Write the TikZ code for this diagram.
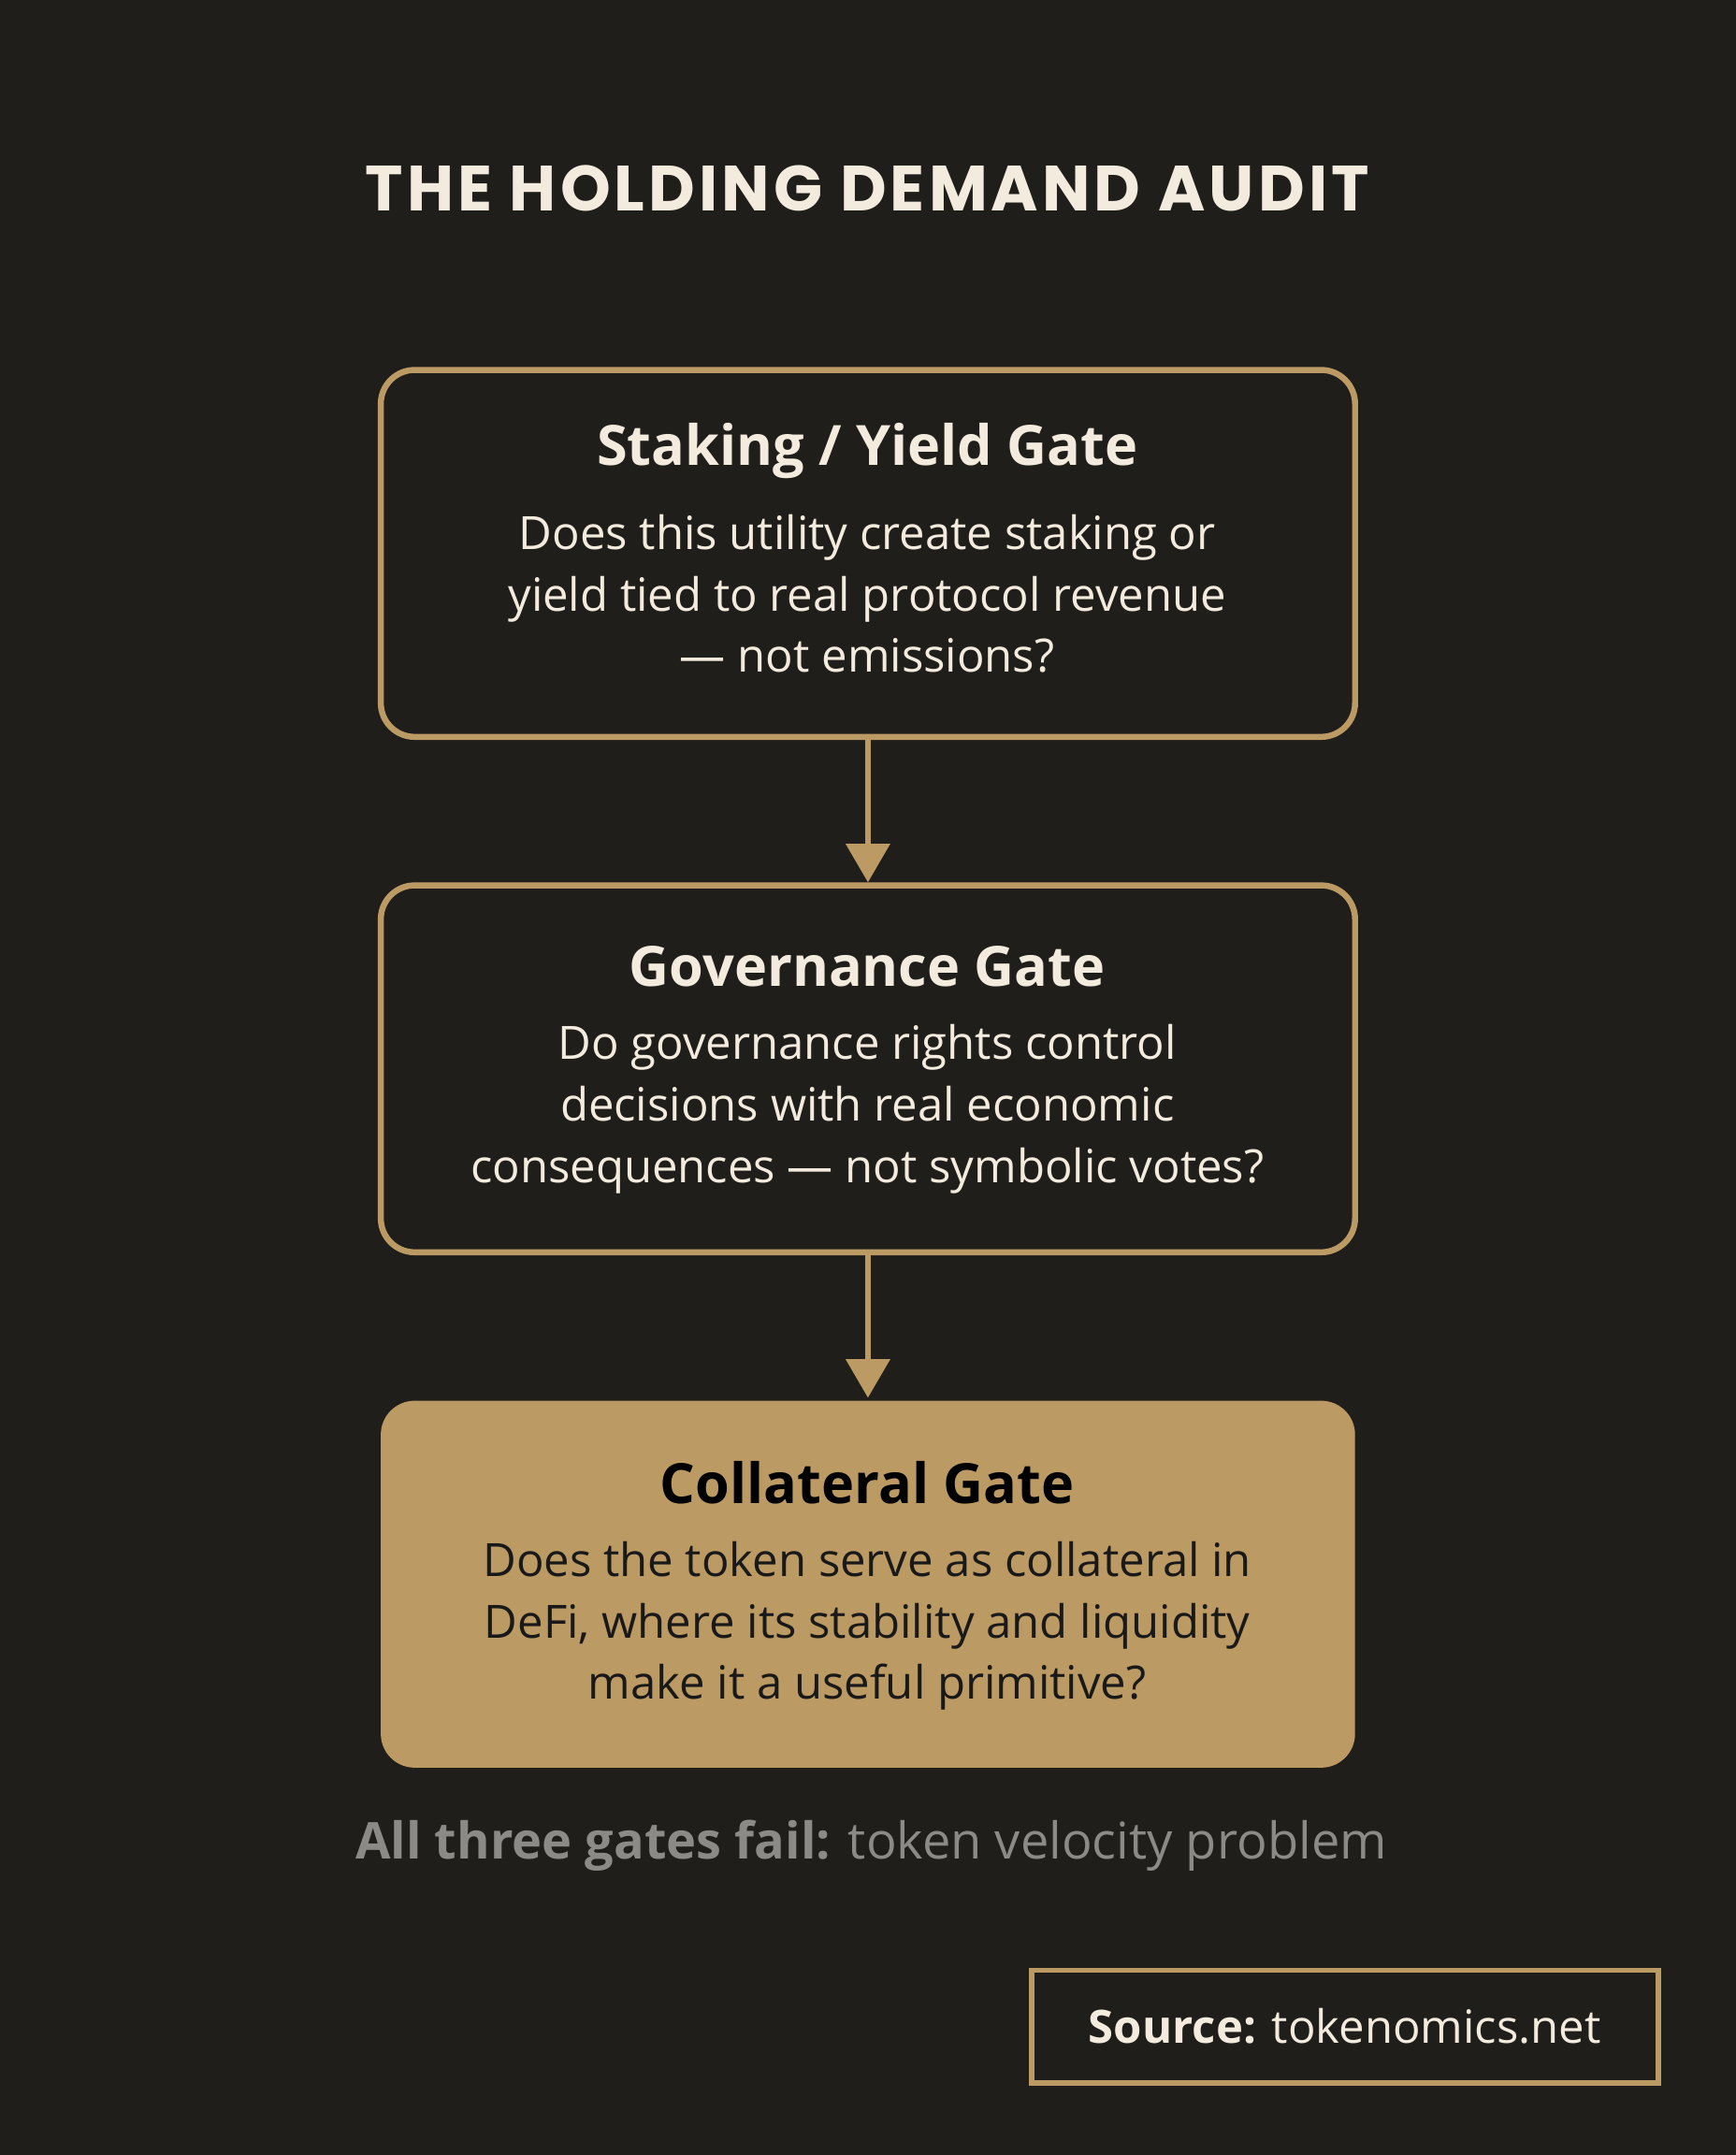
\documentclass[tikz,border=0pt]{standalone}
\usepackage{fontspec}
\setmainfont{Open Sans}
\newfontfamily\titlefont{Poppins}
\usetikzlibrary{arrows.meta}
\definecolor{bg}{HTML}{201E1B}
\definecolor{gold}{HTML}{BC9A63}
\definecolor{cream}{HTML}{F3EBDD}
\definecolor{grayt}{HTML}{8C8A86}
\tikzset{
  gatebox/.style={draw=gold,line width=2.5pt,rounded corners=14pt,minimum width=14.18cm,minimum height=5.34cm,anchor=north},
  head/.style={font=\bfseries\fontsize{23}{28}\selectfont},
  body/.style={align=center,font=\fontsize{19}{25.5}\selectfont},
  conn/.style={draw=gold,line width=2.2pt,-{Triangle[width=18pt,length=16pt]}}
}
\begin{document}
\begin{tikzpicture}[x=0.02cm,y=-0.02cm]
\fill[bg] (0,0) rectangle (1263,1568);
\useasboundingbox (0,0) rectangle (1263,1568);
\node[text=cream,font=\titlefont\bfseries\fontsize{26.5}{32}\selectfont] (title) at (631,137) {\addfontfeature{LetterSpace=6}THE HOLDING DEMAND AUDIT};
\node[gatebox] (b1) at (631.5,267) {};
\node[gatebox] (b2) at (631.5,642) {};
\node[gatebox,fill=gold,draw=none] (b3) at (631.5,1017) {};
\node[head,text=cream] (h1) at (631,328) {Staking / Yield Gate};
\node[body,text=cream] (t1) at (631,432) {Does this utility create staking or\\yield tied to real protocol revenue\\— not emissions?};
\node[head,text=cream] (h2) at (631,703) {Governance Gate};
\node[body,text=cream] (t2) at (631,807) {Do governance rights control\\decisions with real economic\\consequences — not symbolic votes?};
\node[head,text=black] (h3) at (631,1079) {Collateral Gate};
\node[body,text=black!90] (t3) at (631,1183) {Does the token serve as collateral in\\DeFi, where its stability and liquidity\\make it a useful primitive?};
\draw[conn] (b1.south) -- (b2.north);
\draw[conn] (b2.south) -- (b3.north);
\node[text=grayt,font=\fontsize{21}{26}\selectfont] (foot) at (634,1343) {\textbf{All three gates fail:} token velocity problem};
\node[draw=gold,line width=2.2pt,fill=bg,minimum width=9.12cm,minimum height=1.64cm,text=cream,font=\fontsize{19}{24}\selectfont] (src) at (978.5,1474.5) {\textbf{Source:} tokenomics.net};
\end{tikzpicture}
\end{document}
